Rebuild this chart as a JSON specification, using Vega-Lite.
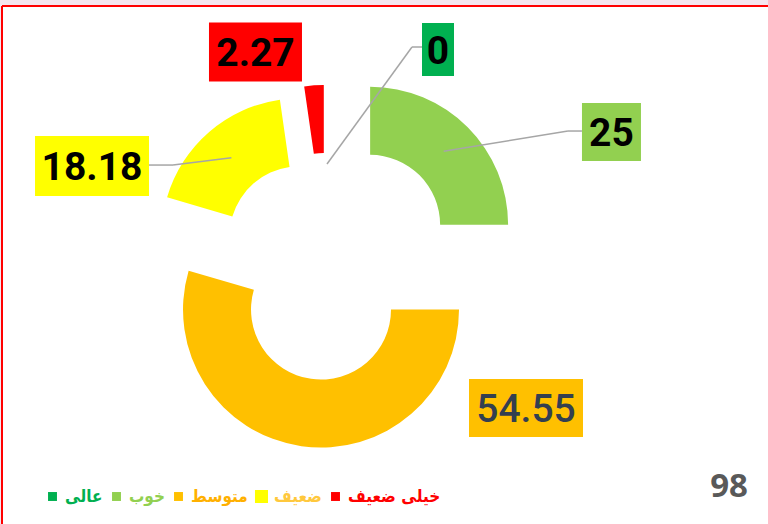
{
  "$schema": "https://vega.github.io/schema/vega-lite/v6.json",
  "width": 766,
  "height": 518,
  "autosize": "none",
  "padding": {"left": 2, "top": 6, "right": 0, "bottom": 0},
  "background": "#F4E6EF",
  "config": {
    "view": {"fill": "#FFFFFF", "stroke": "#FF0000", "strokeWidth": 2, "strokeDash": [766, 1284, 518, 0]}
  },
  "title": {
    "text": "98",
    "orient": "bottom",
    "anchor": "end",
    "frame": "group",
    "offset": -27,
    "baseline": "alphabetic",
    "dx": -20,
    "font": "Open Sans",
    "fontSize": 33,
    "fontWeight": "bold",
    "color": "#595959"
  },
  "data": {
    "values": [
      {"cat": "عالی", "value": 0, "rank": 1},
      {"cat": "خوب", "value": 25, "rank": 2},
      {"cat": "متوسط", "value": 54.55, "rank": 3},
      {"cat": "ضعیف", "value": 18.18, "rank": 4},
      {"cat": "خیلی ضعیف", "value": 2.27, "rank": 5}
    ]
  },
  "transform": [
    {"stack": "value", "groupby": [], "sort": [{"field": "rank", "order": "ascending"}], "as": ["s0", "s1"]}
  ],
  "layer": [
    {
      "mark": {
        "type": "arc",
        "innerRadius": 70,
        "outerRadius": 138,
        "x": {"expr": "325+[0,61,42,42,45][datum.rank-1]*sin((datum.s0+datum.s1)/100*PI)"},
        "y": {"expr": "262-[0,61,42,42,45][datum.rank-1]*cos((datum.s0+datum.s1)/100*PI)"}
      },
      "encoding": {
        "theta": {"field": "s0", "type": "quantitative", "scale": {"domain": [0, 100]}},
        "theta2": {"field": "s1"},
        "color": {
          "field": "cat",
          "type": "nominal",
          "scale": {
            "domain": ["عالی", "خوب", "متوسط", "ضعیف", "خیلی ضعیف"],
            "range": ["#00B050", "#92D050", "#FFC000", "#FFFF00", "#FF0000"]
          },
          "legend": {
            "orient": "none",
            "legendX": 42,
            "legendY": 482,
            "direction": "horizontal",
            "title": null,
            "padding": 0,
            "gridAlign": "none",
            "symbolType": "square",
            "symbolSize": 80,
            "symbolStrokeWidth": 0,
            "labelFont": "DejaVu Sans Condensed",
            "labelFontSize": 17,
            "labelFontWeight": "bold",
            "labelOffset": 4,
            "columnPadding": 5,
            "encode": {
              "labels": {"update": {"fill": {"signal": "datum.value=='عالی'?'#00B050':datum.value=='خوب'?'#92D050':datum.value=='متوسط'?'#FFB000':datum.value=='ضعیف'?'#FFC83D':'#FF0000'"}}},
              "symbols": {"update": {"size": {"signal": "datum.value=='ضعیف'?170:80"}}}
            }
          }
        }
      }
    },
    {
      "mark": {
        "type": "rect",
        "x": {"expr": "325+[104,165,146,146,149][datum.rank-1]*sin((datum.s0+datum.s1)/100*PI)+[111,167.8,219.8,-139.4,-60.9][datum.rank-1]-[32,59,114,114,93][datum.rank-1]/2"},
        "x2": {"expr": "325+[104,165,146,146,149][datum.rank-1]*sin((datum.s0+datum.s1)/100*PI)+[111,167.8,219.8,-139.4,-60.9][datum.rank-1]+[32,59,114,114,93][datum.rank-1]/2"},
        "y": {"expr": "262-[104,165,146,146,149][datum.rank-1]*cos((datum.s0+datum.s1)/100*PI)+[-114.5,-19.3,-4.5,8.4,-67.4][datum.rank-1]-[53,58,58,60,59][datum.rank-1]/2"},
        "y2": {"expr": "262-[104,165,146,146,149][datum.rank-1]*cos((datum.s0+datum.s1)/100*PI)+[-114.5,-19.3,-4.5,8.4,-67.4][datum.rank-1]+[53,58,58,60,59][datum.rank-1]/2"}
      },
      "encoding": {
        "color": {"field": "cat", "type": "nominal", "legend": null}
      }
    },
    {
      "transform": [{"filter": "datum.rank==1||datum.rank==2||datum.rank==4"}],
      "mark": {"type": "rule", "color": "#A6A6A6", "strokeWidth": 1.5},
      "encoding": {
        "x": {"value": {"expr": "325+[104,165,146,146,149][datum.rank-1]*sin((datum.s0+datum.s1)/100*PI)"}},
        "y": {"value": {"expr": "262-[104,165,146,146,149][datum.rank-1]*cos((datum.s0+datum.s1)/100*PI)"}},
        "x2": {"value": {"expr": "325+[104,165,146,146,149][datum.rank-1]*sin((datum.s0+datum.s1)/100*PI)+[111,167.8,219.8,-139.4,-60.9][datum.rank-1]+[-26,-43.5,0,81,0][datum.rank-1]"}},
        "y2": {"value": {"expr": "262-[104,165,146,146,149][datum.rank-1]*cos((datum.s0+datum.s1)/100*PI)+[-114.5,-19.3,-4.5,8.4,-67.4][datum.rank-1]+[-2.5,-1,0,-1,0][datum.rank-1]"}}
      }
    },
    {
      "transform": [{"filter": "datum.rank==1||datum.rank==2||datum.rank==4"}],
      "mark": {"type": "rule", "color": "#A6A6A6", "strokeWidth": 1.5},
      "encoding": {
        "x": {"value": {"expr": "325+[104,165,146,146,149][datum.rank-1]*sin((datum.s0+datum.s1)/100*PI)+[111,167.8,219.8,-139.4,-60.9][datum.rank-1]+[-26,-43.5,0,81,0][datum.rank-1]"}},
        "y": {"value": {"expr": "262-[104,165,146,146,149][datum.rank-1]*cos((datum.s0+datum.s1)/100*PI)+[-114.5,-19.3,-4.5,8.4,-67.4][datum.rank-1]+[-2.5,-1,0,-1,0][datum.rank-1]"}},
        "x2": {"value": {"expr": "325+[104,165,146,146,149][datum.rank-1]*sin((datum.s0+datum.s1)/100*PI)+[111,167.8,219.8,-139.4,-60.9][datum.rank-1]+[-16,-29.5,0,57,0][datum.rank-1]"}},
        "y2": {"value": {"expr": "262-[104,165,146,146,149][datum.rank-1]*cos((datum.s0+datum.s1)/100*PI)+[-114.5,-19.3,-4.5,8.4,-67.4][datum.rank-1]+[-2.5,-1,0,-1,0][datum.rank-1]"}}
      }
    },
    {
      "mark": {
        "type": "text",
        "align": "center",
        "baseline": "middle",
        "font": "Roboto",
        "fontSize": 39,
        "fontWeight": {"expr": "datum.rank==3?500:'bold'"},
        "fill": {"expr": "datum.rank==3?'#333F50':'#000000'"},
        "x": {"expr": "325+[104,165,146,146,149][datum.rank-1]*sin((datum.s0+datum.s1)/100*PI)+[111,167.8,219.8,-139.4,-60.9][datum.rank-1]"},
        "y": {"expr": "262-[104,165,146,146,149][datum.rank-1]*cos((datum.s0+datum.s1)/100*PI)+[-114.5,-19.3,-4.5,8.4,-67.4][datum.rank-1]+2"}
      },
      "encoding": {
        "text": {"field": "value", "type": "nominal"}
      }
    }
  ]
}
